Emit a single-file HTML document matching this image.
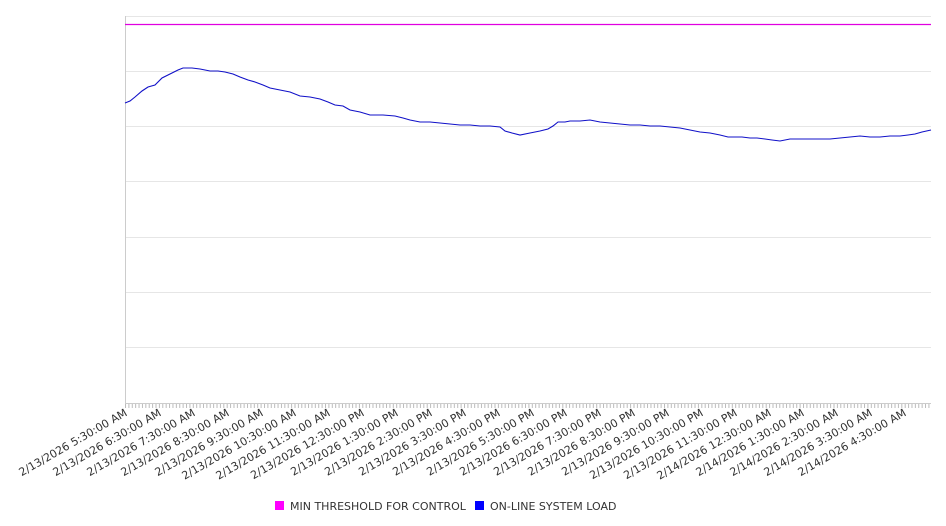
<!DOCTYPE html>
<html><head><meta charset="utf-8"><style>
html,body{margin:0;padding:0;background:#fff;}
svg{display:block;font-family:"DejaVu Sans","Liberation Sans",sans-serif;}
</style></head><body>
<svg width="946" height="526" viewBox="0 0 946 526" xmlns="http://www.w3.org/2000/svg">
<g stroke="#e6e6e6" stroke-width="1">
<line x1="125" y1="16.5" x2="931" y2="16.5"/>
<line x1="125" y1="71.5" x2="931" y2="71.5"/>
<line x1="125" y1="126.5" x2="931" y2="126.5"/>
<line x1="125" y1="181.5" x2="931" y2="181.5"/>
<line x1="125" y1="237.5" x2="931" y2="237.5"/>
<line x1="125" y1="292.5" x2="931" y2="292.5"/>
<line x1="125" y1="347.5" x2="931" y2="347.5"/>
</g>
<line x1="125.5" y1="16" x2="125.5" y2="404" stroke="#ccc"/>
<line x1="125" y1="403.5" x2="931" y2="403.5" stroke="#ccc"/>
<pattern id="tp" x="125" y="0" width="3.39" height="10" patternUnits="userSpaceOnUse"><rect x="0" y="0" width="1" height="10" fill="#bbb"/></pattern>
<rect x="125" y="404" width="806" height="4" fill="url(#tp)"/>
<line x1="125" y1="24.5" x2="931" y2="24.5" stroke="#e000e0" stroke-width="1.2"/>
<polyline fill="none" stroke="#1010c8" stroke-width="1.1" points="125,103 130,101 135,97 142,91 148,87 155,85 162,78 172,73 178,70 183,68 192,68 200,69 210,71 218,71 225,72 233,74 240,77 248,80 255,82 263,85 270,88 280,90 290,92 300,96 310,97 320,99 328,102 335,105 343,106 350,110 360,112 370,115 383,115 395,116 403,118 410,120 420,122 430,122 440,123 450,124 460,125 470,125 480,126 490,126 500,127 505,131 512,133 520,135 530,133 540,131 548,129 553,126 558,122 565,122 570,121 580,121 590,120 600,122 610,123 620,124 630,125 640,125 650,126 660,126 670,127 680,128 690,130 700,132 710,133 720,135 728,137 735,137 742,137 750,138 757,138 765,139 772,140 780,141 790,139 800,139 810,139 820,139 830,139 840,138 850,137 860,136 870,137 880,137 890,136 900,136 908,135 915,134 922,132 931,130"/>
<g font-size="11" fill="#333" text-anchor="end">
<text transform="translate(128,415) rotate(-30)">2/13/2026 5:30:00 AM</text>
<text transform="translate(162,415) rotate(-30)">2/13/2026 6:30:00 AM</text>
<text transform="translate(196,415) rotate(-30)">2/13/2026 7:30:00 AM</text>
<text transform="translate(230,415) rotate(-30)">2/13/2026 8:30:00 AM</text>
<text transform="translate(264,415) rotate(-30)">2/13/2026 9:30:00 AM</text>
<text transform="translate(297,415) rotate(-30)">2/13/2026 10:30:00 AM</text>
<text transform="translate(331,415) rotate(-30)">2/13/2026 11:30:00 AM</text>
<text transform="translate(365,415) rotate(-30)">2/13/2026 12:30:00 PM</text>
<text transform="translate(399,415) rotate(-30)">2/13/2026 1:30:00 PM</text>
<text transform="translate(433,415) rotate(-30)">2/13/2026 2:30:00 PM</text>
<text transform="translate(467,415) rotate(-30)">2/13/2026 3:30:00 PM</text>
<text transform="translate(501,415) rotate(-30)">2/13/2026 4:30:00 PM</text>
<text transform="translate(535,415) rotate(-30)">2/13/2026 5:30:00 PM</text>
<text transform="translate(568,415) rotate(-30)">2/13/2026 6:30:00 PM</text>
<text transform="translate(602,415) rotate(-30)">2/13/2026 7:30:00 PM</text>
<text transform="translate(636,415) rotate(-30)">2/13/2026 8:30:00 PM</text>
<text transform="translate(670,415) rotate(-30)">2/13/2026 9:30:00 PM</text>
<text transform="translate(704,415) rotate(-30)">2/13/2026 10:30:00 PM</text>
<text transform="translate(738,415) rotate(-30)">2/13/2026 11:30:00 PM</text>
<text transform="translate(772,415) rotate(-30)">2/14/2026 12:30:00 AM</text>
<text transform="translate(805,415) rotate(-30)">2/14/2026 1:30:00 AM</text>
<text transform="translate(839,415) rotate(-30)">2/14/2026 2:30:00 AM</text>
<text transform="translate(873,415) rotate(-30)">2/14/2026 3:30:00 AM</text>
<text transform="translate(907,415) rotate(-30)">2/14/2026 4:30:00 AM</text>
</g>
<rect x="275" y="501" width="9" height="9" fill="#ff00ff"/>
<text x="290" y="510" font-size="11" fill="#333">MIN THRESHOLD FOR CONTROL</text>
<rect x="475" y="501" width="9" height="9" fill="#0000ff"/>
<text x="490" y="510" font-size="11" fill="#333">ON-LINE SYSTEM LOAD</text>
</svg>
</body></html>
